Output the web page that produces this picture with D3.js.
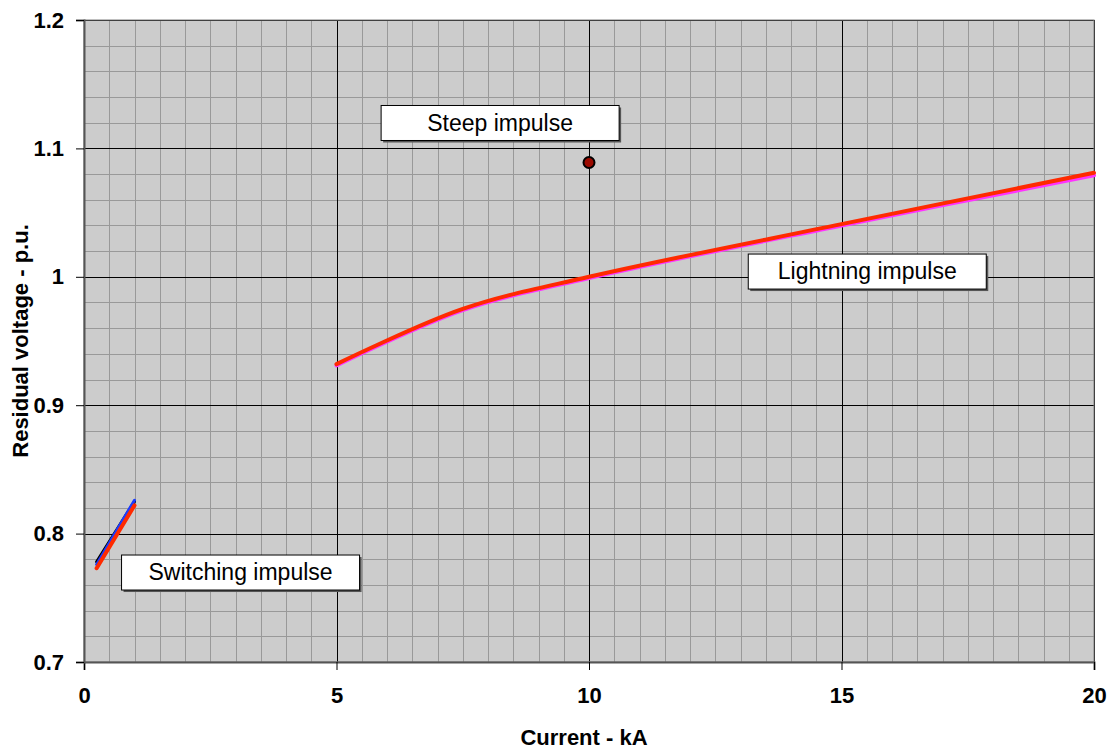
<!DOCTYPE html>
<html>
<head>
<meta charset="utf-8">
<script src="https://cdn.jsdelivr.net/npm/d3@7"></script>
<style>
body { margin: 0; background: #fff; }
text { font-family: "Liberation Sans", Arial, sans-serif; }
</style>
</head>
<body>
<script>
// data
var switchingBlack = [[0.25, 0.778], [1.0, 0.825]];
var switchingBlue = [[0.25, 0.776], [1.0, 0.826]];
var switchingRed = [[0.25, 0.773], [1.0, 0.822]];
var lightningPink = [[5, 0.931], [7.5, 0.974], [10, 0.999], [15, 1.040], [20, 1.079]];
var lightningRed = [[5, 0.932], [7.5, 0.975], [10, 1.0], [15, 1.041], [20, 1.081]];
var steepPoint = [[10, 1.089]];
var xTicks = [0, 5, 10, 15, 20];
var yTicks = [0.7, 0.8, 0.9, 1.0, 1.1, 1.2];
var labels = [
    {text: "Steep impulse", x: 8.24, y: 1.1194},
    {text: "Lightning impulse", x: 15.51, y: 1.0037},
    {text: "Switching impulse", x: 3.10, y: 0.7693}
];

var totalWidth = 1110,
    totalHeight = 751,
    margin = {top: 20, right: 16, bottom: 89, left: 84};
var width = totalWidth - margin.left - margin.right,
    height = totalHeight - margin.top - margin.bottom;

var xScale = d3.scaleLinear().domain([0, 20]).range([0, width]);
var yScale = d3.scaleLinear().domain([0.7, 1.2]).range([height, 0]);

var svg = d3.select("body").append("svg")
    .attr("width", totalWidth)
    .attr("height", totalHeight);

var g = svg.append("g")
    .attr("transform", "translate(" + margin.left + "," + margin.top + ")");

g.append("rect")
    .attr("width", width)
    .attr("height", height)
    .attr("fill", "#cccccc");

// minor grid
var minorX = d3.range(0, 20.01, 0.5).filter(function(d) { return d % 5 !== 0; });
var minorY = d3.range(0.7, 1.2001, 0.02).map(function(d) { return +d.toFixed(2); })
    .filter(function(d) { return Math.round(d * 100) % 10 !== 0; });

g.selectAll(".minor-x").data(minorX).enter().append("line")
    .attr("x1", function(d) { return Math.round(xScale(d)) + 0.5; })
    .attr("x2", function(d) { return Math.round(xScale(d)) + 0.5; })
    .attr("y1", 0).attr("y2", height)
    .attr("stroke", "#999999").attr("stroke-width", 1);

g.selectAll(".minor-y").data(minorY).enter().append("line")
    .attr("y1", function(d) { return Math.round(yScale(d)) + 0.5; })
    .attr("y2", function(d) { return Math.round(yScale(d)) + 0.5; })
    .attr("x1", 0).attr("x2", width)
    .attr("stroke", "#999999").attr("stroke-width", 1);

// major grid
g.selectAll(".major-x").data(xTicks.slice(1)).enter().append("line")
    .attr("x1", function(d) { return Math.round(xScale(d)) + 0.5; })
    .attr("x2", function(d) { return Math.round(xScale(d)) + 0.5; })
    .attr("y1", 0).attr("y2", height)
    .attr("stroke", "#000").attr("stroke-width", 1);

g.selectAll(".major-y").data(yTicks.slice(1)).enter().append("line")
    .attr("y1", function(d) { return Math.round(yScale(d)) + 0.5; })
    .attr("y2", function(d) { return Math.round(yScale(d)) + 0.5; })
    .attr("x1", 0).attr("x2", width)
    .attr("stroke", "#000").attr("stroke-width", 1);

g.append("rect")
    .attr("width", width)
    .attr("height", height)
    .attr("fill", "none")
    .attr("stroke", "#808080")
    .attr("stroke-width", 1);

// axes
var xAxis = d3.axisBottom(xScale).tickValues(xTicks).tickSize(8).tickPadding(14);
var yAxis = d3.axisLeft(yScale).tickValues(yTicks).tickSize(8).tickPadding(12)
    .tickFormat(function(d) { return d === 1 ? "1" : d3.format(".1f")(d); });

var gx = g.append("g").attr("transform", "translate(0," + height + ")").call(xAxis);
var gy = g.append("g").call(yAxis);

[gx, gy].forEach(function(a) {
    a.select(".domain").attr("stroke", "#555").attr("stroke-width", 2);
    a.selectAll(".tick line").attr("stroke", "#000");
    a.selectAll(".tick text")
        .attr("fill", "#000")
        .style("font-size", "22px")
        .style("font-weight", "bold");
});
gx.selectAll(".tick text").attr("dy", "0.85em");

// series
var line = d3.line()
    .x(function(d) { return xScale(d[0]); })
    .y(function(d) { return yScale(d[1]); })
    .curve(d3.curveCatmullRom);

function drawLine(data, color, w) {
    g.append("path")
        .datum(data)
        .attr("d", line)
        .attr("fill", "none")
        .attr("stroke", color)
        .attr("stroke-width", w)
        .attr("stroke-linecap", "round");
}

drawLine(switchingBlack, "#000000", 3);
drawLine(switchingBlue, "#1a3cff", 3);
drawLine(switchingRed, "#ff2a00", 4);
drawLine(lightningPink, "#ff33ff", 4);
drawLine(lightningRed, "#ff2a00", 4);

g.selectAll(".steep").data(steepPoint).enter().append("circle")
    .attr("cx", function(d) { return xScale(d[0]); })
    .attr("cy", function(d) { return yScale(d[1]); })
    .attr("r", 5.5)
    .attr("fill", "#9b0a00")
    .attr("stroke", "#000")
    .attr("stroke-width", 2);

// label boxes
var lab = g.selectAll(".lab").data(labels).enter().append("g")
    .attr("transform", function(d) { return "translate(" + xScale(d.x) + "," + yScale(d.y) + ")"; });

lab.append("rect")
    .attr("x", -117).attr("y", -16)
    .attr("width", 238).attr("height", 35)
    .attr("fill", "#555");
lab.append("rect")
    .attr("x", -119).attr("y", -18)
    .attr("width", 238).attr("height", 35)
    .attr("fill", "#fff")
    .attr("stroke", "#000")
    .attr("stroke-width", 1);
lab.append("text")
    .attr("text-anchor", "middle")
    .attr("y", -1)
    .attr("dy", "0.35em")
    .style("font-size", "23px")
    .text(function(d) { return d.text; });

// axis titles
svg.append("text")
    .attr("x", margin.left + width / 2 - 5)
    .attr("y", 745)
    .attr("text-anchor", "middle")
    .style("font-size", "22px")
    .style("font-weight", "bold")
    .text("Current - kA");

svg.append("text")
    .attr("transform", "translate(28," + (margin.top + height / 2) + ") rotate(-90)")
    .attr("text-anchor", "middle")
    .style("font-size", "22px")
    .style("font-weight", "bold")
    .text("Residual voltage - p.u.");
</script>
</body>
</html>
